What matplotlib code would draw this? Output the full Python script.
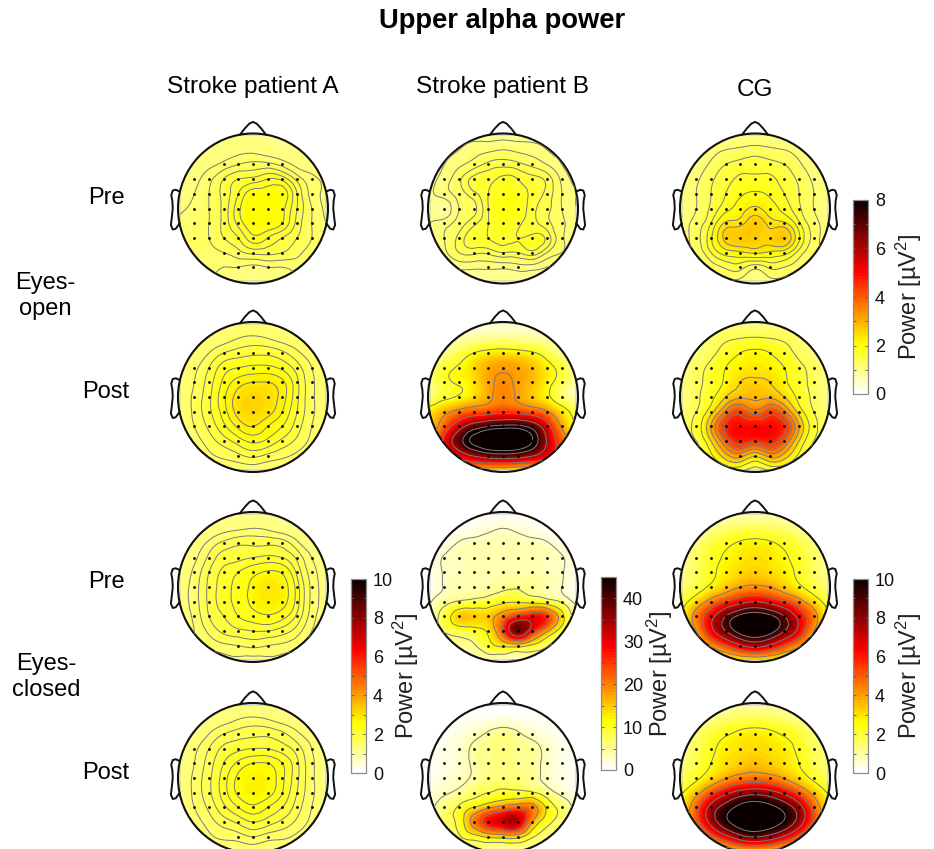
import numpy as np
import matplotlib
matplotlib.use("Agg")
import matplotlib.pyplot as plt
import matplotlib.tri as mtri
from matplotlib.cm import ScalarMappable
from matplotlib.colors import Normalize
from matplotlib.ticker import MultipleLocator

plt.rcParams["font.family"] = ["Liberation Sans", "DejaVu Sans"]
plt.rcParams["mathtext.default"] = "regular"

# power (uV^2) on the electrode lattice, rows front to back, columns left to right
a_open_pre = [
    [1.0] * 11,
    [1.0, 1.0, 1.0, 1.05, 1.1, 1.1, 1.05, 1.0, 1.0, 1.0, 1.0],
    [1.0, 1.05, 1.1, 1.2, 1.3, 1.35, 1.35, 1.25, 1.1, 1.05, 1.0],
    [1.0, 1.1, 1.25, 1.45, 1.6, 1.65, 1.75, 1.7, 1.4, 1.2, 1.1],
    [1.0, 1.15, 1.3, 1.5, 1.75, 2.0, 2.0, 2.0, 1.6, 1.25, 1.1],
    [1.1, 1.2, 1.3, 1.5, 1.85, 2.1, 2.1, 1.95, 1.6, 1.3, 1.1],
    [1.2, 1.25, 1.3, 1.5, 1.8, 2.05, 2.05, 1.9, 1.55, 1.3, 1.15],
    [1.25, 1.25, 1.3, 1.45, 1.6, 1.85, 1.75, 1.6, 1.45, 1.3, 1.2],
    [1.25, 1.25, 1.25, 1.3, 1.4, 1.5, 1.5, 1.45, 1.35, 1.25, 1.2],
    [1.2, 1.2, 1.2, 1.15, 1.15, 1.1, 1.15, 1.15, 1.2, 1.2, 1.2],
    [1.2, 1.2, 1.15, 1.1, 1.05, 1.0, 1.05, 1.1, 1.15, 1.2, 1.2],
]
b_open_pre = [
    [0.9] * 11,
    [0.9, 0.95, 1.0, 1.1, 1.15, 1.2, 1.15, 1.1, 1.0, 0.95, 0.9],
    [0.9, 1.0, 1.15, 1.3, 1.45, 1.5, 1.45, 1.35, 1.2, 1.0, 0.9],
    [0.9, 1.1, 1.35, 1.6, 1.65, 1.75, 1.7, 1.6, 1.5, 1.15, 0.95],
    [0.95, 1.1, 1.3, 1.5, 1.7, 1.9, 1.85, 1.65, 1.5, 1.2, 1.0],
    [0.95, 0.85, 1.2, 1.35, 1.7, 1.95, 1.9, 1.6, 1.45, 1.2, 1.0],
    [1.0, 1.1, 1.3, 1.5, 1.7, 1.85, 1.75, 1.6, 1.45, 1.25, 1.05],
    [1.0, 1.2, 1.45, 1.65, 1.7, 1.75, 1.7, 1.75, 1.65, 1.25, 1.1],
    [1.0, 1.15, 1.4, 1.45, 1.45, 1.55, 1.55, 1.65, 1.4, 1.2, 1.05],
    [0.95, 1.0, 1.05, 1.05, 1.05, 1.05, 1.1, 1.1, 1.0, 1.0, 0.95],
    [0.9, 0.9, 0.85, 0.8, 0.85, 0.9, 0.85, 0.85, 0.85, 0.9, 0.9],
]
c_open_pre = [
    [1.0] * 11,
    [1.0, 1.0, 1.1, 1.2, 1.25, 1.3, 1.25, 1.2, 1.1, 1.0, 1.0],
    [1.0, 1.05, 1.25, 1.45, 1.55, 1.6, 1.55, 1.45, 1.25, 1.05, 1.0],
    [1.0, 1.15, 1.4, 1.6, 1.75, 1.75, 1.75, 1.6, 1.4, 1.15, 1.0],
    [1.0, 1.2, 1.45, 1.7, 1.9, 2.0, 1.9, 1.7, 1.45, 1.2, 1.0],
    [1.0, 1.2, 1.5, 1.85, 2.1, 2.3, 2.1, 1.85, 1.5, 1.2, 1.0],
    [1.05, 1.3, 1.7, 2.3, 2.4, 2.7, 2.4, 2.3, 1.75, 1.3, 1.05],
    [1.05, 1.35, 1.9, 2.6, 2.75, 2.7, 2.6, 2.75, 2.0, 1.35, 1.05],
    [1.05, 1.25, 1.7, 2.1, 2.2, 2.3, 2.2, 2.1, 1.6, 1.25, 1.05],
    [1.0, 1.1, 1.3, 1.5, 1.55, 1.3, 1.5, 1.45, 1.3, 1.1, 1.0],
    [1.0, 1.0, 1.1, 1.15, 1.1, 1.0, 1.1, 1.1, 1.05, 1.0, 1.0],
]
a_open_post = [
    [1.1] * 11,
    [1.1, 1.1, 1.15, 1.2, 1.3, 1.35, 1.3, 1.2, 1.15, 1.1, 1.1],
    [1.1, 1.15, 1.3, 1.5, 1.6, 1.65, 1.65, 1.55, 1.35, 1.2, 1.1],
    [1.1, 1.25, 1.5, 1.8, 1.9, 1.95, 1.95, 1.85, 1.6, 1.3, 1.1],
    [1.1, 1.3, 1.6, 1.95, 2.2, 2.3, 2.3, 2.15, 1.75, 1.35, 1.15],
    [1.1, 1.35, 1.65, 2.05, 2.4, 2.55, 2.45, 2.2, 1.75, 1.35, 1.15],
    [1.1, 1.35, 1.65, 2.0, 2.4, 2.55, 2.4, 2.1, 1.7, 1.35, 1.15],
    [1.1, 1.3, 1.55, 1.85, 2.15, 2.3, 2.1, 1.9, 1.6, 1.3, 1.1],
    [1.05, 1.2, 1.4, 1.6, 1.8, 1.95, 1.85, 1.65, 1.45, 1.25, 1.1],
    [1.05, 1.1, 1.25, 1.35, 1.45, 1.55, 1.45, 1.35, 1.25, 1.15, 1.05],
    [1.0, 1.05, 1.1, 1.15, 1.15, 1.15, 1.15, 1.15, 1.1, 1.05, 1.0],
]
b_open_post = [
    [0.4] * 11,
    [0.5, 0.6, 0.7, 0.8, 0.9, 0.95, 0.9, 0.8, 0.7, 0.6, 0.5],
    [0.8, 1.0, 1.4, 1.9, 2.2, 2.3, 2.2, 2.0, 1.5, 1.0, 0.8],
    [1.0, 1.6, 2.0, 2.5, 3.0, 3.2, 3.1, 2.8, 2.2, 1.6, 0.9],
    [1.1, 1.7, 2.0, 2.4, 3.1, 3.4, 3.2, 2.8, 2.2, 1.5, 0.7],
    [1.1, 1.7, 2.0, 2.5, 3.1, 3.5, 3.2, 2.7, 2.1, 1.3, 0.6],
    [2.3, 3.0, 3.6, 4.0, 4.2, 4.4, 4.3, 4.0, 3.4, 2.4, 1.4],
    [2.4, 4.0, 5.5, 6.8, 7.5, 7.8, 7.8, 7.0, 5.2, 3.2, 1.8],
    [2.8, 5.0, 7.0, 8.6, 9.4, 9.6, 9.4, 8.3, 6.0, 4.0, 2.4],
    [3.0, 4.2, 5.2, 6.2, 6.8, 7.0, 6.8, 6.2, 5.2, 3.8, 2.4],
    [2.2, 2.8, 3.0, 3.0, 2.6, 2.4, 2.2, 2.4, 2.6, 2.4, 2.0],
]
c_open_post = [
    [1.0] * 11,
    [1.0, 1.05, 1.2, 1.4, 1.5, 1.55, 1.5, 1.4, 1.2, 1.05, 1.0],
    [1.0, 1.1, 1.35, 1.75, 2.0, 2.1, 2.0, 1.75, 1.35, 1.1, 1.0],
    [1.0, 1.3, 1.65, 2.0, 2.2, 2.3, 2.2, 2.0, 1.65, 1.3, 1.0],
    [1.0, 1.35, 1.7, 2.1, 2.5, 2.6, 2.5, 2.1, 1.7, 1.35, 1.0],
    [1.0, 1.4, 1.85, 2.5, 2.9, 2.9, 2.9, 2.5, 1.85, 1.4, 1.0],
    [1.1, 1.5, 2.3, 3.6, 4.2, 3.7, 4.2, 3.6, 2.3, 1.5, 1.1],
    [1.2, 1.7, 3.0, 4.6, 5.0, 5.0, 5.0, 4.6, 3.0, 1.7, 1.2],
    [1.2, 1.5, 2.5, 4.0, 4.8, 4.6, 4.8, 4.0, 2.5, 1.5, 1.2],
    [1.1, 1.3, 1.9, 2.8, 3.2, 2.6, 3.2, 2.8, 1.9, 1.3, 1.1],
    [1.0, 1.1, 1.3, 1.6, 1.6, 1.3, 1.5, 1.5, 1.3, 1.1, 1.0],
]
a_closed_pre = [
    [1.2] * 11,
    [1.2, 1.2, 1.25, 1.35, 1.4, 1.45, 1.4, 1.3, 1.25, 1.2, 1.2],
    [1.2, 1.3, 1.5, 1.7, 1.8, 1.8, 1.8, 1.75, 1.5, 1.3, 1.2],
    [1.25, 1.4, 1.7, 1.95, 2.0, 2.05, 2.1, 2.05, 1.8, 1.45, 1.25],
    [1.3, 1.5, 1.85, 2.1, 2.25, 2.45, 2.6, 2.5, 2.0, 1.55, 1.3],
    [1.35, 1.55, 1.9, 2.15, 2.35, 2.65, 2.9, 2.75, 2.15, 1.6, 1.35],
    [1.35, 1.55, 1.9, 2.15, 2.35, 2.65, 2.85, 2.7, 2.15, 1.6, 1.35],
    [1.35, 1.5, 1.85, 2.05, 2.25, 2.4, 2.5, 2.35, 2.0, 1.55, 1.3],
    [1.3, 1.45, 1.7, 1.9, 2.0, 2.05, 2.05, 1.95, 1.75, 1.45, 1.3],
    [1.3, 1.4, 1.5, 1.6, 1.65, 1.7, 1.65, 1.6, 1.5, 1.35, 1.3],
    [1.25, 1.3, 1.3, 1.35, 1.4, 1.35, 1.4, 1.35, 1.3, 1.3, 1.25],
]
b_closed_pre = [
    [0.5] * 11,
    [0.5, 0.5, 0.8, 1.5, 2.2, 2.8, 2.2, 1.5, 0.8, 0.5, 0.5],
    [0.5, 1.5, 3.0, 3.5, 3.8, 4.0, 3.8, 3.5, 3.0, 1.5, 0.5],
    [1.0, 3.0, 3.5, 4.0, 4.0, 4.0, 4.0, 4.0, 3.5, 3.0, 1.0],
    [1.0, 3.0, 3.5, 4.0, 4.0, 4.0, 4.0, 4.0, 3.5, 3.0, 1.0],
    [1.0, 3.0, 3.8, 4.0, 4.5, 5.5, 6.0, 5.0, 4.0, 2.8, 1.0],
    [2.5, 5.0, 7.0, 8.0, 9.0, 11.0, 11.5, 10.5, 9.0, 6.0, 2.0],
    [3.0, 9.0, 15.0, 15.0, 15.0, 20.0, 26.0, 28.0, 25.0, 14.0, 4.0],
    [3.0, 7.0, 9.0, 10.0, 13.0, 24.0, 38.0, 28.0, 18.0, 9.0, 3.0],
    [2.0, 3.5, 5.0, 6.0, 10.0, 13.0, 14.0, 11.0, 7.0, 4.0, 2.0],
    [2.0, 2.0, 2.2, 2.5, 3.0, 3.0, 3.0, 3.0, 2.5, 2.0, 1.5],
]
c_closed_pre = [
    [0.8] * 11,
    [0.9, 1.0, 1.2, 1.5, 1.7, 1.8, 1.7, 1.5, 1.2, 1.0, 0.9],
    [1.0, 1.4, 1.9, 2.3, 2.6, 2.7, 2.6, 2.3, 1.9, 1.4, 1.0],
    [1.1, 1.6, 2.2, 2.6, 2.9, 3.0, 2.9, 2.6, 2.2, 1.6, 1.1],
    [1.2, 1.7, 2.3, 2.8, 3.1, 3.3, 3.1, 2.8, 2.3, 1.7, 1.2],
    [1.4, 2.0, 2.7, 3.4, 4.0, 4.2, 4.0, 3.4, 2.7, 2.0, 1.4],
    [2.0, 3.2, 4.5, 5.6, 6.5, 7.0, 6.5, 5.6, 4.5, 3.2, 2.0],
    [2.5, 4.5, 6.5, 8.5, 9.8, 10.2, 9.8, 8.5, 6.5, 4.5, 2.5],
    [2.5, 4.0, 6.5, 8.5, 10.0, 10.5, 10.0, 8.5, 6.5, 4.0, 2.5],
    [2.0, 3.0, 4.2, 5.5, 6.8, 7.5, 6.8, 5.5, 4.2, 3.0, 2.0],
    [1.4, 1.7, 2.0, 2.4, 2.8, 2.9, 2.8, 2.4, 2.0, 1.7, 1.4],
]
a_closed_post = [
    [1.3] * 11,
    [1.3, 1.3, 1.35, 1.4, 1.5, 1.55, 1.5, 1.4, 1.35, 1.3, 1.3],
    [1.3, 1.35, 1.5, 1.7, 1.8, 1.85, 1.85, 1.75, 1.55, 1.4, 1.3],
    [1.3, 1.45, 1.7, 1.95, 2.05, 2.1, 2.1, 2.0, 1.8, 1.5, 1.3],
    [1.3, 1.5, 1.8, 2.1, 2.35, 2.5, 2.5, 2.3, 1.95, 1.55, 1.35],
    [1.3, 1.55, 1.85, 2.2, 2.55, 2.7, 2.65, 2.35, 1.95, 1.55, 1.35],
    [1.3, 1.55, 1.85, 2.2, 2.55, 2.7, 2.6, 2.3, 1.9, 1.55, 1.35],
    [1.3, 1.5, 1.75, 2.05, 2.3, 2.45, 2.3, 2.1, 1.8, 1.5, 1.3],
    [1.25, 1.4, 1.6, 1.8, 1.95, 2.1, 2.0, 1.85, 1.65, 1.45, 1.3],
    [1.25, 1.3, 1.45, 1.55, 1.6, 1.7, 1.6, 1.55, 1.45, 1.35, 1.25],
    [1.2, 1.25, 1.3, 1.35, 1.35, 1.35, 1.35, 1.35, 1.3, 1.25, 1.2],
]
b_closed_post = [
    [0.5] * 11,
    [0.5, 0.5, 0.6, 1.0, 1.5, 1.8, 1.5, 1.0, 0.6, 0.5, 0.5],
    [0.5, 1.0, 1.8, 3.0, 4.5, 5.5, 4.5, 3.0, 1.8, 1.0, 0.5],
    [0.8, 1.5, 2.5, 4.5, 5.5, 6.0, 5.5, 5.0, 3.0, 1.5, 0.8],
    [0.8, 1.5, 2.5, 4.5, 5.5, 6.0, 5.5, 5.0, 3.0, 1.5, 0.8],
    [0.8, 2.0, 3.0, 4.5, 6.0, 6.5, 6.0, 5.0, 3.0, 1.8, 0.8],
    [2.0, 3.5, 5.0, 7.0, 8.5, 9.5, 9.5, 9.0, 6.0, 3.0, 1.5],
    [3.0, 6.0, 9.0, 13.0, 17.0, 20.0, 22.0, 20.0, 12.0, 7.0, 2.5],
    [3.5, 7.0, 10.0, 20.0, 28.0, 32.0, 33.0, 18.0, 10.0, 6.0, 2.5],
    [3.0, 5.0, 8.0, 11.0, 14.0, 15.0, 15.0, 9.0, 6.0, 4.0, 2.0],
    [2.5, 3.0, 4.0, 5.0, 5.5, 5.0, 5.0, 4.0, 3.5, 2.5, 2.0],
]
c_closed_post = [
    [0.9] * 11,
    [1.0, 1.1, 1.3, 1.6, 1.8, 1.9, 1.8, 1.6, 1.3, 1.1, 1.0],
    [1.1, 1.5, 2.0, 2.4, 2.7, 2.8, 2.7, 2.4, 2.0, 1.5, 1.1],
    [1.2, 1.7, 2.3, 2.8, 3.0, 3.1, 3.0, 2.8, 2.3, 1.7, 1.2],
    [1.3, 1.9, 2.5, 3.0, 3.3, 3.5, 3.3, 3.0, 2.5, 1.9, 1.3],
    [1.6, 2.3, 3.1, 3.9, 4.5, 4.7, 4.5, 3.9, 3.1, 2.3, 1.6],
    [2.4, 3.6, 5.2, 6.6, 7.6, 8.0, 7.6, 6.6, 5.2, 3.6, 2.4],
    [2.8, 5.0, 7.5, 9.2, 10.5, 11.0, 10.5, 9.4, 7.6, 5.0, 2.8],
    [3.0, 5.0, 7.5, 9.6, 11.0, 11.5, 11.0, 9.8, 7.8, 5.2, 3.0],
    [2.4, 3.5, 5.0, 6.6, 8.0, 8.6, 8.0, 6.8, 5.2, 3.6, 2.4],
    [1.6, 1.9, 2.4, 2.9, 3.4, 3.5, 3.4, 2.9, 2.4, 1.9, 1.6],
]

# contour levels for each map
levels_a_open_pre = [1.15, 1.3, 1.45, 1.6, 1.75, 1.9]
levels_b_open_pre = [1.0, 1.2, 1.4, 1.55, 1.7]
levels_c_open_pre = [1.2, 1.45, 1.7, 1.95, 2.25, 2.5]
levels_a_open_post = [1.3, 1.5, 1.7, 1.9, 2.1, 2.3]
levels_b_open_post = [1.9, 3.3, 4.7, 6.1, 7.5, 8.3]
levels_c_open_post = [1.5, 2.0, 2.5, 3.0, 3.5, 4.0, 4.5]
levels_a_closed_pre = [1.45, 1.65, 1.85, 2.05, 2.25, 2.55]
levels_b_closed_pre = [2.8, 6.5, 12.0, 17.0, 24.0, 32.0]
levels_c_closed_pre = [2.5, 4.0, 5.5, 7.0, 8.5, 9.5]
levels_a_closed_post = [1.5, 1.7, 1.9, 2.1, 2.3, 2.5]
levels_b_closed_post = [4.0, 8.5, 13.0, 18.0, 25.0]
levels_c_closed_post = [2.5, 4.0, 5.5, 7.0, 8.5, 10.0]

# electrodes per row as (row, first column, last column)
electrode_rows = [(-3, -2, 2), (-2, -4, 4), (-1, -4, 4), (0, -4, 4),
                  (1, -4, 4), (2, -4, 4), (3, -2, 2), (4, -1, 1)]

# head outline pieces, in head radii
nose_x = [-0.173, -0.107, -0.05, 0.0, 0.05, 0.107, 0.173]
nose_y = [0.985, 1.07, 1.13, 1.155, 1.13, 1.07, 0.985]
ear_x = [0.985, 1.03, 1.07, 1.09, 1.075, 1.07, 1.085, 1.095, 1.07, 1.03, 0.98]
ear_y = [0.23, 0.25, 0.24, 0.18, 0.1, 0.0, -0.14, -0.22, -0.28, -0.27, -0.2]

FIG_W, FIG_H = 934, 849
RADIUS = 75
SPACING = 14.67 / RADIUS
HEAD_COLS = [253, 503, 755]
HEAD_ROWS = [208.5, 397, 587, 778]
cmap = plt.get_cmap("hot_r", 64)

lattice = np.arange(-5, 6) * SPACING
node_x, node_y = np.meshgrid(lattice, -lattice)
triang = mtri.Triangulation(node_x.ravel(), node_y.ravel())
fine = np.linspace(-1.0, 1.0, 301)
fine_x, fine_y = np.meshgrid(fine, fine)
outside = fine_x ** 2 + fine_y ** 2 > 1.0


def draw_head(fig, cx, cy, values, levels, vmax):
    pad = 1.2
    size = 2 * pad * RADIUS
    ax = fig.add_axes([(cx - size / 2) / FIG_W, 1 - (cy + size / 2) / FIG_H, size / FIG_W, size / FIG_H])
    ax.set_xlim(-pad, pad)
    ax.set_ylim(-pad, pad)
    ax.axis("off")
    interp = mtri.CubicTriInterpolator(triang, np.array(values, dtype=float).ravel(), kind="min_E")
    surface = np.ma.array(np.asarray(interp(fine_x, fine_y)), mask=outside)
    ax.imshow(surface, extent=(-1, 1, -1, 1), origin="lower", cmap=cmap, vmin=0, vmax=vmax,
              interpolation="bilinear")
    ax.contour(fine_x, fine_y, surface, levels=levels, colors="#7a7a7a", linewidths=0.7)
    for row, first, last in electrode_rows:
        cols = np.arange(first, last + 1)
        ax.plot(cols * SPACING, np.full(len(cols), -row * SPACING), ls="none", marker="o",
                ms=2.0, mfc="black", mec="none")
    ax.add_patch(plt.Circle((0, 0), 1.0, fill=False, ec="#111111", lw=1.5))
    ax.plot(nose_x, nose_y, color="#111111", lw=1.4, solid_joinstyle="round")
    ax.plot(ear_x, ear_y, color="#111111", lw=1.4, solid_joinstyle="round")
    ax.plot(-np.array(ear_x), ear_y, color="#111111", lw=1.4, solid_joinstyle="round")


def draw_colorbar(fig, left, top, bottom, vmax, major, minor, label_x):
    cax = fig.add_axes([left / FIG_W, 1 - bottom / FIG_H, 15 / FIG_W, (bottom - top) / FIG_H])
    bar = fig.colorbar(ScalarMappable(Normalize(0, vmax), cmap), cax=cax)
    cax.yaxis.set_major_locator(MultipleLocator(major))
    cax.yaxis.set_minor_locator(MultipleLocator(minor))
    cax.tick_params(which="both", direction="in", length=2, width=0.6, color="#555555",
                    left=True, right=True, labelsize=13, pad=5)
    cax.tick_params(axis="y", which="major", colors="#555555", labelcolor="#111111")
    bar.outline.set_edgecolor("#8c8c8c")
    bar.outline.set_linewidth(0.9)
    fig.text(label_x / FIG_W, 1 - (top + bottom) / 2 / FIG_H, r"Power [µV$^2$]", rotation=90,
             ha="center", va="center", fontsize=17, color="#222222")


def put_text(fig, x, y, text, **kwargs):
    fig.text(x / FIG_W, 1 - y / FIG_H, text, ha="center", va="center", **kwargs)


fig = plt.figure(figsize=(FIG_W / 100, FIG_H / 100), dpi=100)

draw_head(fig, HEAD_COLS[0], HEAD_ROWS[0], a_open_pre, levels_a_open_pre, 8)
draw_head(fig, HEAD_COLS[1], HEAD_ROWS[0], b_open_pre, levels_b_open_pre, 8)
draw_head(fig, HEAD_COLS[2], HEAD_ROWS[0], c_open_pre, levels_c_open_pre, 8)
draw_head(fig, HEAD_COLS[0], HEAD_ROWS[1], a_open_post, levels_a_open_post, 8)
draw_head(fig, HEAD_COLS[1], HEAD_ROWS[1], b_open_post, levels_b_open_post, 8)
draw_head(fig, HEAD_COLS[2], HEAD_ROWS[1], c_open_post, levels_c_open_post, 8)
draw_head(fig, HEAD_COLS[0], HEAD_ROWS[2], a_closed_pre, levels_a_closed_pre, 10)
draw_head(fig, HEAD_COLS[1], HEAD_ROWS[2], b_closed_pre, levels_b_closed_pre, 45)
draw_head(fig, HEAD_COLS[2], HEAD_ROWS[2], c_closed_pre, levels_c_closed_pre, 10)
draw_head(fig, HEAD_COLS[0], HEAD_ROWS[3], a_closed_post, levels_a_closed_post, 10)
draw_head(fig, HEAD_COLS[1], HEAD_ROWS[3], b_closed_post, levels_b_closed_post, 45)
draw_head(fig, HEAD_COLS[2], HEAD_ROWS[3], c_closed_post, levels_c_closed_post, 10)

draw_colorbar(fig, 853, 200, 394, 8, 2, 1, 909)
draw_colorbar(fig, 351, 579, 773, 10, 2, 1, 406)
draw_colorbar(fig, 601, 577, 770, 45, 10, 5, 660)
draw_colorbar(fig, 853, 579, 773, 10, 2, 1, 909)

put_text(fig, 502, 21, "Upper alpha power", fontsize=19.7, fontweight="bold")
put_text(fig, 253, 87, "Stroke patient A", fontsize=17.6)
put_text(fig, 503, 87, "Stroke patient B", fontsize=17.6)
put_text(fig, 755, 90, "CG", fontsize=17.6)
put_text(fig, 106, 198, "Pre", fontsize=17)
put_text(fig, 106, 392, "Post", fontsize=17)
put_text(fig, 106, 582, "Pre", fontsize=17)
put_text(fig, 106, 773, "Post", fontsize=17)
put_text(fig, 45, 296, "Eyes-\nopen", fontsize=17, linespacing=1.25)
put_text(fig, 46, 677, "Eyes-\nclosed", fontsize=17, linespacing=1.25)

fig.savefig("out.png", dpi=100)
plt.close(fig)
